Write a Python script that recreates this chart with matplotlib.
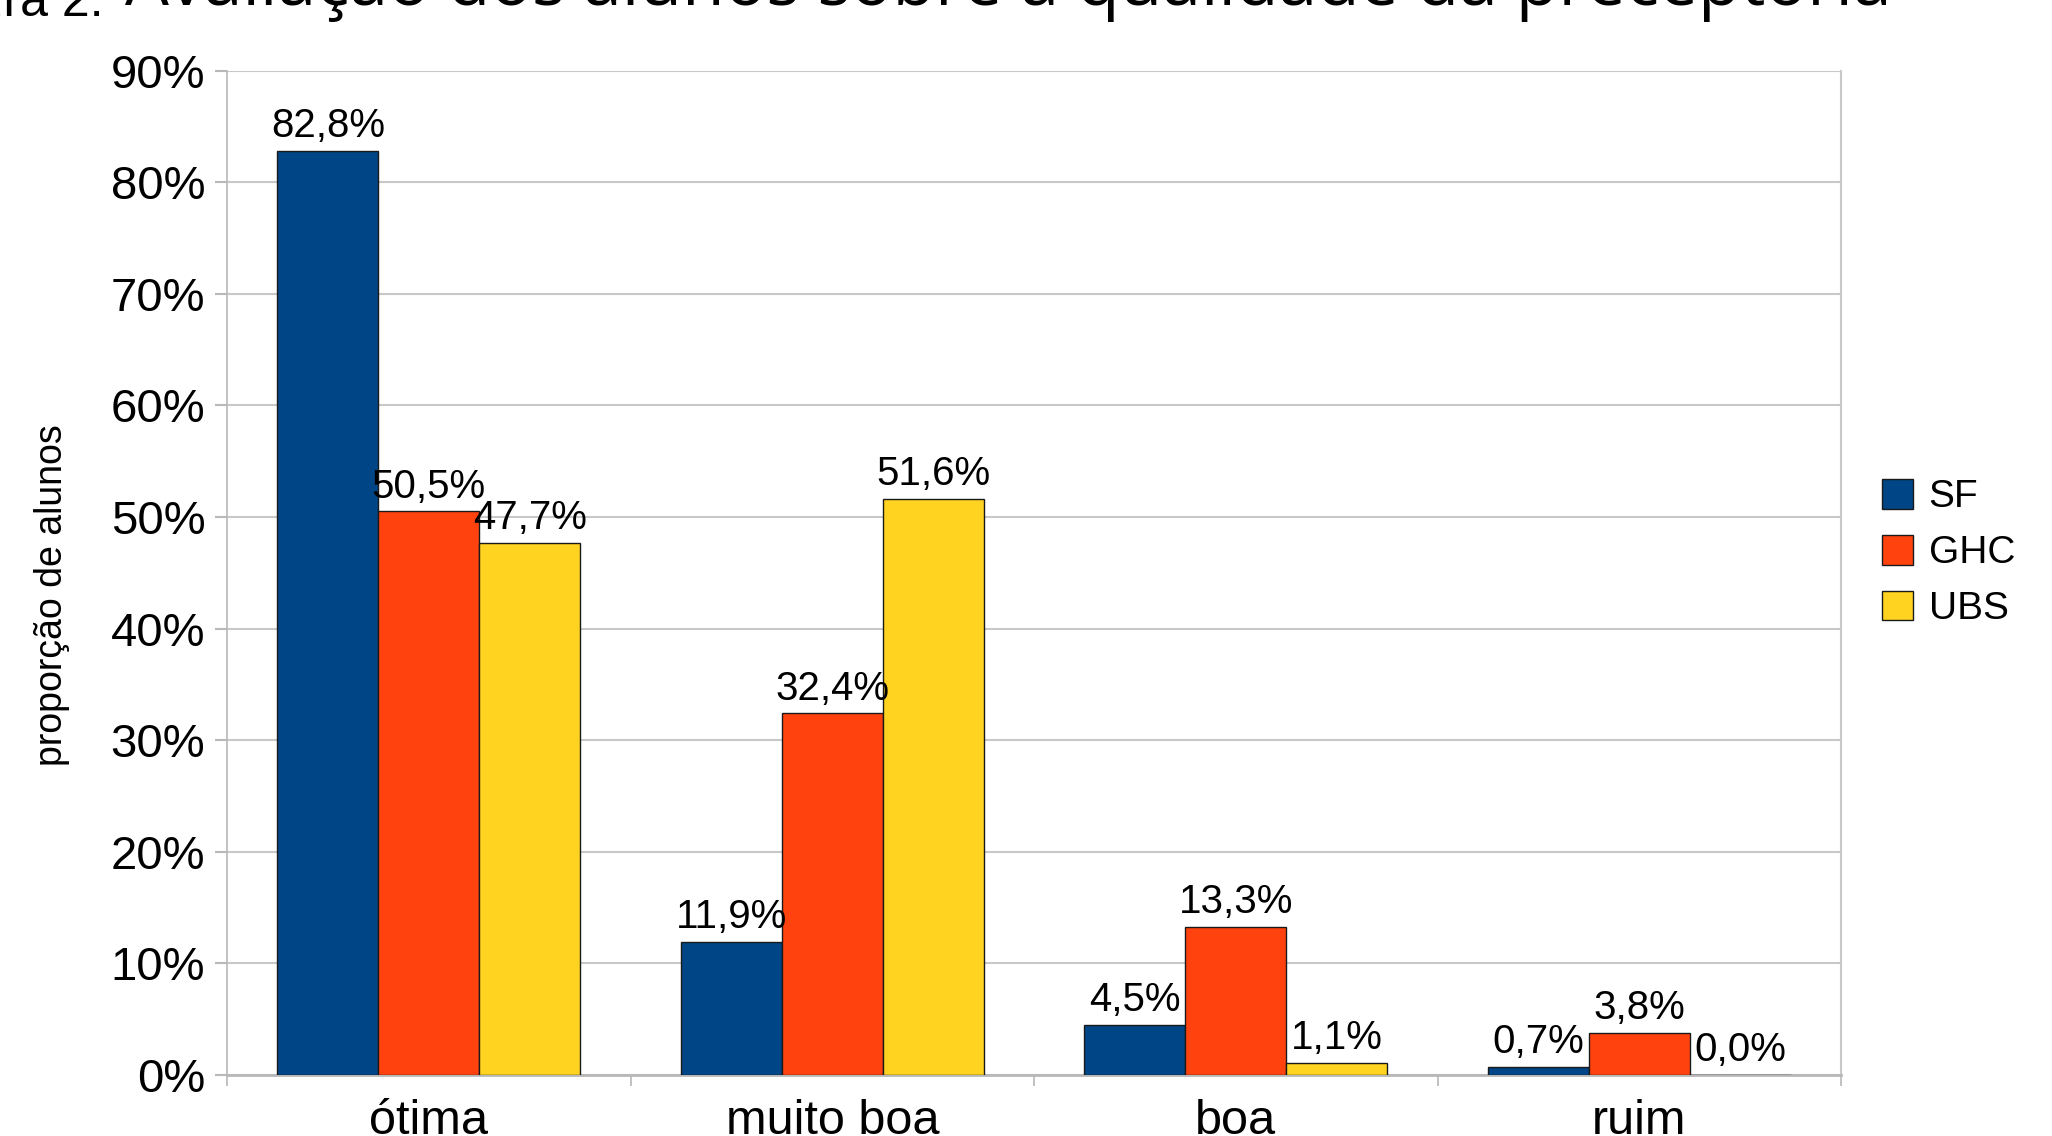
import numpy as np
import matplotlib
matplotlib.use('Agg')
import matplotlib.pyplot as plt

plt.rcParams['font.family'] = ['Liberation Sans', 'DejaVu Sans']

categories = ['ótima', 'muito boa', 'boa', 'ruim']
series = ['SF', 'GHC', 'UBS']
sf = [82.8, 11.9, 4.5, 0.7]
ghc = [50.5, 32.4, 13.3, 3.8]
ubs = [47.7, 51.6, 1.1, 0.0]
yticks = [0, 10, 20, 30, 40, 50, 60, 70, 80, 90]

COLORS = ['#004586', '#ff420e', '#ffd320']
GRAY = '#b8b8b8'

W, H = 2052, 1136
fig = plt.figure(figsize=(W / 100, H / 100), dpi=100)
ax = fig.add_axes([227 / W, 1 - 1075 / H, (1841 - 227) / W, (1075 - 70.7) / H])

x = np.arange(len(categories))
bw = 0.25
for i, (name, vals) in enumerate(zip(series, [sf, ghc, ubs])):
    pos = x + (i - 1) * bw
    ax.bar(pos, vals, bw, color=COLORS[i], edgecolor='#1a1a1a', linewidth=1,
           label=name, zorder=3)
    for p, v in zip(pos, vals):
        ax.annotate(('%.1f%%' % v).replace('.', ','), (p, v), xytext=(0, 10),
                    textcoords='offset points', ha='center', va='baseline',
                    fontsize=29, zorder=4)

ax.set_xlim(-0.5, len(categories) - 0.5)
ax.set_ylim(0, 90)
ax.set_yticks(yticks)
ax.set_yticklabels(['%d%%' % v for v in yticks])
ax.yaxis.grid(True, color='#c8c8c8', linewidth=1.5, zorder=0)
ax.set_axisbelow(True)

ax.set_xticks(np.arange(len(categories) + 1) - 0.5)
ax.set_xticklabels([])
ax.set_xticks(x, minor=True)
ax.set_xticklabels(categories, minor=True)
ax.tick_params(axis='x', which='major', length=8, width=1.2, color=GRAY, direction='out')
ax.tick_params(axis='x', which='minor', length=0, pad=17, labelsize=35)
ax.tick_params(axis='y', length=8.6, width=1.5, color=GRAY, pad=7, labelsize=34)

ax.spines['top'].set_visible(False)
ax.spines['left'].set_color(GRAY)
ax.spines['left'].set_linewidth(1.2)
ax.spines['right'].set_color('#c8c8c8')
ax.spines['right'].set_linewidth(1.5)
ax.spines['bottom'].set_color(GRAY)
ax.spines['bottom'].set_linewidth(2)

fig.text(52 / W, 1 - 595 / H, 'proporção de alunos', rotation=90, ha='center',
         va='center', fontsize=27)

fig.legend(loc='center left', bbox_to_anchor=(1882 / W, 1 - 553 / H), frameon=False,
           fontsize=28, handlelength=0.8, handleheight=0.8, handletextpad=0.4,
           labelspacing=0.5, borderpad=0, borderaxespad=0)

# title, cut off by the top and left edges as in the source image
fig.text(104 / W, 1 - 16 / H, 'Figura 2.', ha='right', va='baseline', fontsize=36)
fig.text(125 / W, 1 - 5 / H, 'Avaliação dos alunos sobre a qualidade da preceptoria',
         ha='left', va='baseline', fontsize=50, family=['Open Sans', 'DejaVu Sans'])

fig.savefig('out.png', dpi=100)
